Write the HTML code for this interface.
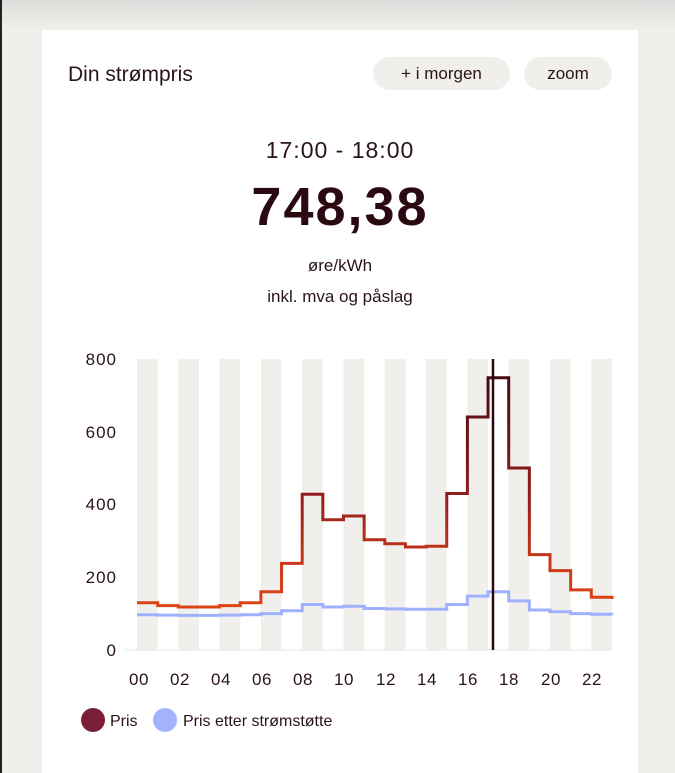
<!DOCTYPE html>
<html><head><meta charset="utf-8"><style>
html,body{margin:0;padding:0;width:675px;height:773px;overflow:hidden;background:#f0efeb;font-family:"Liberation Sans",sans-serif}
</style></head><body>
<svg width="675" height="773" xmlns="http://www.w3.org/2000/svg" style="position:absolute;left:0;top:0">
<defs>
<linearGradient id="tg" x1="0" y1="0" x2="0" y2="1"><stop offset="0" stop-color="#dcdcda"/><stop offset="1" stop-color="#f0efeb"/></linearGradient>
<linearGradient id="rg" gradientUnits="userSpaceOnUse" x1="0" y1="650" x2="0" y2="360"><stop offset="0" stop-color="#f0500f"/><stop offset="0.3" stop-color="#c8381a"/><stop offset="0.55" stop-color="#8e1c1c"/><stop offset="1" stop-color="#3a0a12"/></linearGradient>
</defs>
<rect x="0" y="0" width="675" height="30" fill="url(#tg)"/>
<rect x="0" y="0" width="2" height="773" fill="#222"/>
<rect x="42" y="30" width="596" height="743" fill="#fff"/>
<text x="68" y="81" font-size="21" fill="#2a1418">Din strømpris</text>
<rect x="373" y="57" width="137" height="33" rx="16.5" fill="#f0efeb"/>
<text x="441.5" y="79" font-size="17" fill="#2a1418" text-anchor="middle">+ i morgen</text>
<rect x="524" y="57" width="88" height="33" rx="16.5" fill="#f0efeb"/>
<text x="568" y="79" font-size="17" fill="#2a1418" text-anchor="middle">zoom</text>
<text x="340" y="158" font-size="23" letter-spacing="1" fill="#2a1418" text-anchor="middle">17:00 - 18:00</text>
<text x="340" y="225" font-size="54" font-weight="bold" letter-spacing="2" fill="#2a0a10" text-anchor="middle">748,38</text>
<text x="340" y="271" font-size="17" fill="#2a1418" text-anchor="middle">øre/kWh</text>
<text x="340" y="302" font-size="17" fill="#2a1418" text-anchor="middle">inkl. mva og påslag</text>
<g fill="#f0efeb">
<rect x="137" y="359" width="20.65" height="291"/><rect x="178.3" y="359" width="20.65" height="291"/><rect x="219.6" y="359" width="20.65" height="291"/><rect x="260.9" y="359" width="20.65" height="291"/><rect x="302.2" y="359" width="20.65" height="291"/><rect x="343.5" y="359" width="20.65" height="291"/><rect x="384.8" y="359" width="20.65" height="291"/><rect x="426.1" y="359" width="20.65" height="291"/><rect x="467.4" y="359" width="20.65" height="291"/><rect x="508.7" y="359" width="20.65" height="291"/><rect x="550" y="359" width="20.65" height="291"/><rect x="591.3" y="359" width="20.7" height="291"/>
</g>
<line x1="125" y1="650" x2="612" y2="650" stroke="#e6e4e0" stroke-width="1"/>
<g font-size="17" letter-spacing="1" fill="#2a1418" text-anchor="end">
<text x="117" y="365">800</text><text x="117" y="438">600</text><text x="117" y="510">400</text><text x="117" y="583">200</text><text x="117" y="656">0</text>
</g>
<g font-size="17" letter-spacing="0.5" fill="#2a1418" text-anchor="middle">
<text x="139" y="685">00</text><text x="180" y="685">02</text><text x="221" y="685">04</text><text x="262" y="685">06</text><text x="303" y="685">08</text><text x="344" y="685">10</text><text x="386" y="685">12</text><text x="427" y="685">14</text><text x="468" y="685">16</text><text x="509" y="685">18</text><text x="551" y="685">20</text><text x="592" y="685">22</text>
</g>
<path d="M137,614.7 H157.65 V615.1 H178.3 V615.4 H219.6 V615.1 H240.25 V614.7 H260.9 V613.6 H281.55 V610.7 H302.2 V604.5 H322.85 V607 H343.5 V606.3 H364.15 V608.5 H384.8 V608.9 H405.45 V609.2 H446.75 V604.5 H467.4 V596.1 H488.05 V591.8 H508.7 V600.9 H529.35 V610 H550 V611.8 H570.65 V613.6 H591.3 V614.3 H612 V614.7" fill="none" stroke="#9fb0ff" stroke-width="3"/>
<path d="M137,602.7 H157.65 V605.6 H178.3 V607 H219.6 V605.6 H240.25 V602.7 H260.9 V591.8 H281.55 V563.4 H302.2 V494.2 H322.85 V519.7 H343.5 V516 H364.15 V539.7 H384.8 V543.7 H405.45 V547 H426.1 V546.3 H446.75 V493.5 H467.4 V417 H488.05 V377.7 H508.7 V468 H529.35 V554.6 H550 V570.6 H570.65 V589.9 H591.3 V597.2 H612 V599" fill="none" stroke="url(#rg)" stroke-width="3"/>
<line x1="493" y1="359" x2="493" y2="650" stroke="#2a0a10" stroke-width="2.5"/>
<circle cx="93" cy="720" r="12" fill="#7a1f38"/>
<text x="110" y="726" font-size="16" fill="#2a1418">Pris</text>
<circle cx="165" cy="720" r="12" fill="#a3b3ff"/>
<text x="183" y="726" font-size="16" fill="#2a1418">Pris etter strømstøtte</text>
</svg>
</body></html>
